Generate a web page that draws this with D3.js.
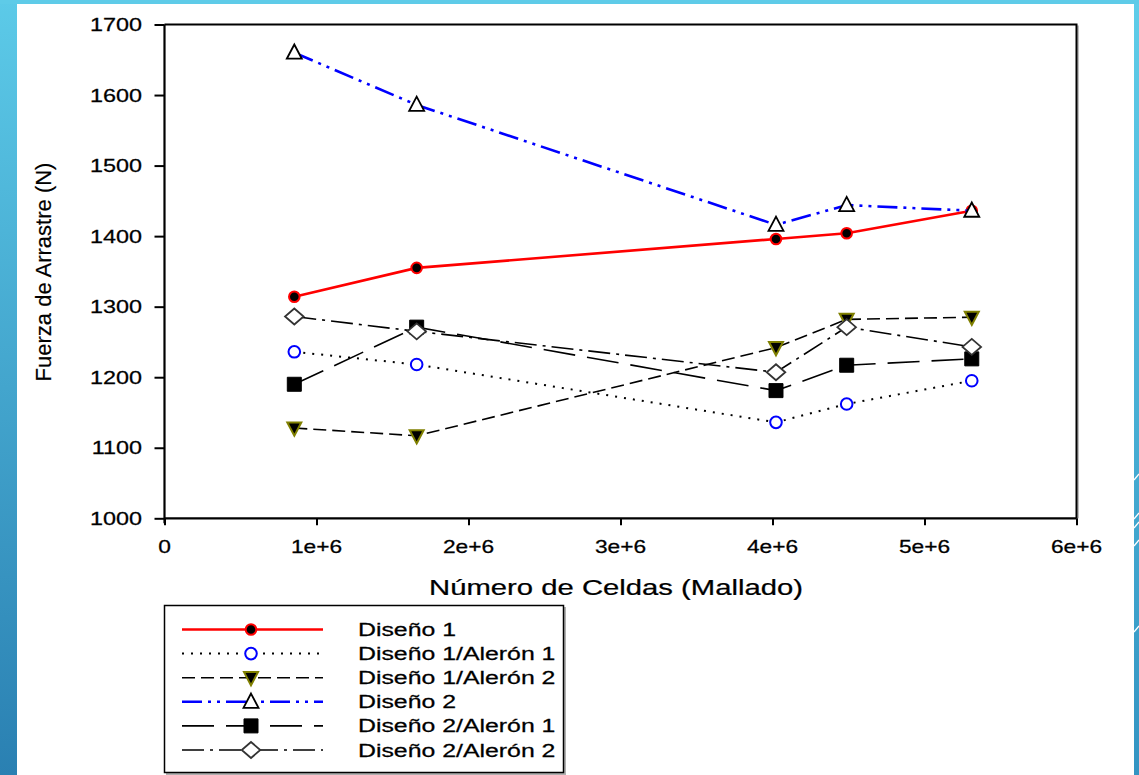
<!DOCTYPE html>
<html>
<head>
<meta charset="utf-8">
<script src="https://cdn.jsdelivr.net/npm/d3@7"></script>
<style>
  html, body { margin: 0; padding: 0; background: #ffffff; }
  svg { display: block; }
  text { font-family: "Liberation Sans", Arial, sans-serif; fill: #000; }
</style>
</head>
<body>
<svg id="chart" width="1139" height="775"></svg>
<script>
// Mesh size (number of cells) used in each simulation
const cells = [854000, 1659000, 4023000, 4488000, 5311000];

// Drag force (N) for each design
const diseno1          = [1314, 1355, 1396, 1404, 1436];
const diseno1Aleron1   = [1236, 1218, 1136, 1162, 1195];
const diseno1Aleron2   = [1128, 1117, 1242, 1282, 1285];
const diseno2          = [1660, 1586, 1416, 1444, 1436];
const diseno2Aleron1   = [1190, 1271, 1181, 1217, 1226];
const diseno2Aleron2   = [1286, 1265, 1207, 1271, 1243];

const seriesNames = ["Diseño 1", "Diseño 1/Alerón 1", "Diseño 1/Alerón 2",
                     "Diseño 2", "Diseño 2/Alerón 1", "Diseño 2/Alerón 2"];

const xTicks = [0, 1e6, 2e6, 3e6, 4e6, 5e6, 6e6];
const xTickLabels = ["0", "1e+6", "2e+6", "3e+6", "4e+6", "5e+6", "6e+6"];
const yTicks = [1000, 1100, 1200, 1300, 1400, 1500, 1600, 1700];

const xTitle = "Número de Celdas (Mallado)";
const yTitle = "Fuerza de Arrastre (N)";

const svg = d3.select("#chart");

// ---- slide background ----
const defs = svg.append("defs");
const gl = defs.append("linearGradient").attr("id", "bgLeft")
  .attr("x1", 0).attr("y1", 0).attr("x2", 0).attr("y2", 1);
gl.append("stop").attr("offset", "0%").attr("stop-color", "#5ccae8");
gl.append("stop").attr("offset", "100%").attr("stop-color", "#2a80b2");
const gr = defs.append("linearGradient").attr("id", "bgRight")
  .attr("x1", 0).attr("y1", 0).attr("x2", 0).attr("y2", 1);
gr.append("stop").attr("offset", "0%").attr("stop-color", "#5fcde9");
gr.append("stop").attr("offset", "100%").attr("stop-color", "#3394c2");

svg.append("rect").attr("x", 0).attr("y", 0).attr("width", 1139).attr("height", 775)
  .attr("fill", "url(#bgLeft)");
svg.append("rect").attr("x", 1100).attr("y", 0).attr("width", 39).attr("height", 775)
  .attr("fill", "url(#bgRight)");
svg.append("rect").attr("x", 0).attr("y", 0).attr("width", 1139).attr("height", 4)
  .attr("fill", "#5ecbe8");
// white content panel
svg.append("rect").attr("x", 17).attr("y", 4).attr("width", 1117).attr("height", 771)
  .attr("fill", "#ffffff");
// thin decorative strokes on the right edge
const deco = svg.append("g").attr("stroke", "#ffffff").attr("stroke-width", 1.3).attr("fill", "none");
[[1134, 480, 1139, 474], [1134, 519, 1139, 513], [1134, 528, 1139, 522],
 [1134, 546, 1139, 540], [1134, 632, 1139, 626]].forEach(d => {
  deco.append("line").attr("x1", d[0]).attr("y1", d[1]).attr("x2", d[2]).attr("y2", d[3]);
});

// ---- scales ----
const x = d3.scaleLinear().domain([0, 6e6]).range([164.5, 1076.5]);
const y = d3.scaleLinear().domain([1000, 1700]).range([518.3, 24.5]);

const SX = 1.3; // horizontal stretch of the typography

// frame: top and right borders with a faint shadow
svg.append("line").attr("x1", x(6e6) + 1.5).attr("x2", x(6e6) + 1.5)
  .attr("y1", y(1700) + 1).attr("y2", y(1000)).attr("stroke", "#aaaaaa").attr("stroke-width", 1.5);
svg.append("path")
  .attr("d", `M${x(0)},${y(1700)}H${x(6e6)}V${y(1000)}`)
  .attr("fill", "none").attr("stroke", "#000").attr("stroke-width", 2);

// ---- axes ----
const xAxis = d3.axisBottom(x).tickValues(xTicks).tickSize(7).tickFormat("");
const yAxis = d3.axisLeft(y).tickValues(yTicks).tickSize(10).tickFormat("");

const gx = svg.append("g").attr("transform", `translate(0,${y(1000)})`).call(xAxis);
const gy = svg.append("g").attr("transform", `translate(${x(0)},0)`).call(yAxis);
[gx, gy].forEach(g => {
  g.select(".domain").attr("stroke", "#000").attr("stroke-width", 2.2);
  g.selectAll(".tick line").attr("stroke", "#000").attr("stroke-width", 2);
});
gx.select(".domain").attr("d", `M${x(0)},0H${x(6e6)}`);
gy.select(".domain").attr("d", `M0,${y(1000) + 5}V${y(1700)}`);

// tick labels
svg.append("g").selectAll("text").data(yTicks).join("text")
  .attr("transform", d => `translate(142,${y(d) + 6.5}) scale(${SX},1)`)
  .attr("text-anchor", "end").attr("font-size", 18)
  .attr("stroke", "#000").attr("stroke-width", 0.25).text(d => d);

svg.append("g").selectAll("text").data(xTicks).join("text")
  .attr("transform", d => `translate(${x(d)},553) scale(${SX},1)`)
  .attr("text-anchor", "middle").attr("font-size", 17.5)
  .attr("stroke", "#000").attr("stroke-width", 0.25)
  .text((d, i) => xTickLabels[i]);

// axis titles
svg.append("text")
  .attr("transform", `translate(616,595) scale(1.33,1)`)
  .attr("text-anchor", "middle").attr("font-size", 22)
  .attr("stroke", "#000").attr("stroke-width", 0.25).text(xTitle);

svg.append("text")
  .attr("transform", `translate(51,272) rotate(-90)`)
  .attr("text-anchor", "middle").attr("font-size", 22)
  .attr("stroke", "#000").attr("stroke-width", 0.2).text(yTitle);

// ---- marker shapes ----
const markerPath = {
  circle: r => `M${-r},0A${r},${r} 0 1,0 ${r},0A${r},${r} 0 1,0 ${-r},0Z`,
  triUp: s => `M0,${-s * 0.55}L${s * 0.5},${s * 0.4}L${-s * 0.5},${s * 0.4}Z`,
  triDown: s => `M0,${s * 0.55}L${s * 0.5},${-s * 0.4}L${-s * 0.5},${-s * 0.4}Z`,
  square: s => `M${-s / 2},${-s / 2}H${s / 2}V${s / 2}H${-s / 2}Z`,
  diamond: s => `M0,${-s * 0.5}L${s * 0.58},0L0,${s * 0.5}L${-s * 0.58},0Z`
};

const series = [
  { name: seriesNames[0], values: diseno1, line: "#ff0000", lw: 2.6, dash: null,
    shape: markerPath.circle(5.3), fill: "#000000", stroke: "#ff0000", sw: 2 },
  { name: seriesNames[1], values: diseno1Aleron1, line: "#000000", lw: 2, dash: "2,7",
    shape: markerPath.circle(5.8), fill: "#ffffff", stroke: "#0000ff", sw: 2 },
  { name: seriesNames[2], values: diseno1Aleron2, line: "#000000", lw: 1.6, dash: "13,6",
    shape: markerPath.triDown(14), fill: "#000000", stroke: "#808000", sw: 2 },
  { name: seriesNames[3], values: diseno2, line: "#0000ff", lw: 2.6, dash: "20,6,3,6,3,6",
    shape: markerPath.triUp(15), fill: "#ffffff", stroke: "#000000", sw: 1.8 },
  { name: seriesNames[4], values: diseno2Aleron1, line: "#000000", lw: 1.6, dash: "32,12",
    shape: markerPath.square(14), fill: "#000000", stroke: "#000000", sw: 1 },
  { name: seriesNames[5], values: diseno2Aleron2, line: "#000000", lw: 1.6, dash: "22,6,3,6",
    shape: markerPath.diamond(16), fill: "#ffffff", stroke: "#333333", sw: 1.8 }
];

const line = d3.line().x(d => x(d[0])).y(d => y(d[1]));

series.forEach(s => {
  const pts = cells.map((c, i) => [c, s.values[i]]);
  const g = svg.append("g");
  g.append("path").attr("d", line(pts)).attr("fill", "none")
    .attr("stroke", s.line).attr("stroke-width", s.lw)
    .attr("stroke-dasharray", s.dash);
  g.selectAll("path.m").data(pts).join("path").attr("class", "m")
    .attr("transform", d => `translate(${x(d[0])},${y(d[1])})`)
    .attr("d", s.shape).attr("fill", s.fill)
    .attr("stroke", s.stroke).attr("stroke-width", s.sw);
});

// ---- legend ----
const lg = svg.append("g");
lg.append("rect").attr("x", 166).attr("y", 607).attr("width", 400).attr("height", 168)
  .attr("fill", "#b0b0b0");
lg.append("rect").attr("x", 164.5).attr("y", 605.5).attr("width", 399).attr("height", 167)
  .attr("fill", "#ffffff").attr("stroke", "#000").attr("stroke-width", 1.5);

const rowY = d3.scalePoint().domain(seriesNames).range([629.5, 750]);

series.forEach(s => {
  const yy = rowY(s.name);
  lg.append("line").attr("x1", 182).attr("x2", 323).attr("y1", yy).attr("y2", yy)
    .attr("stroke", s.line).attr("stroke-width", s.lw).attr("stroke-dasharray", s.dash);
  lg.append("path").attr("transform", `translate(251,${yy})`).attr("d", s.shape)
    .attr("fill", s.fill).attr("stroke", s.stroke).attr("stroke-width", s.sw);
  lg.append("text").attr("transform", `translate(358,${yy + 6.5}) scale(1.38,1)`)
    .attr("font-size", 18).attr("stroke", "#000").attr("stroke-width", 0.25).text(s.name);
});
</script>
</body>
</html>
